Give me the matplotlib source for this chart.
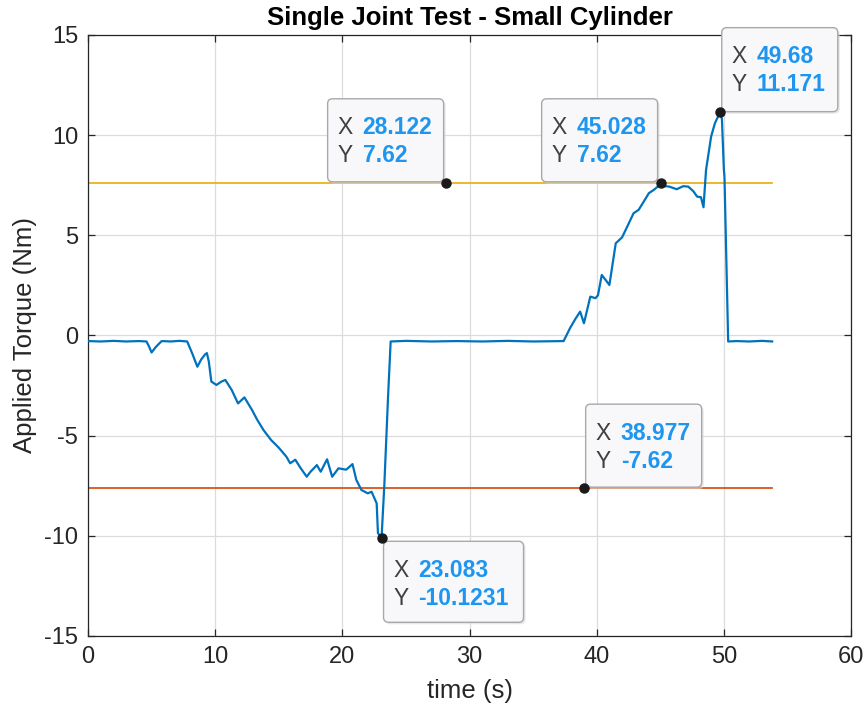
import matplotlib
import matplotlib.pyplot as plt
from matplotlib.patches import FancyBboxPatch
from matplotlib.transforms import Affine2D, ScaledTranslation

matplotlib.use("Agg")

# torque trace
time_s = [0.0, 1.0, 2.0, 3.0, 4.0, 4.6, 4.8, 5.0, 5.3, 5.6, 5.8, 6.5, 7.2, 7.8,
          8.2, 8.6, 8.9, 9.2, 9.35, 9.5, 9.7, 10.1, 10.5, 10.8, 11.3, 11.8,
          12.3, 12.9, 13.3, 13.8, 14.4, 15.0, 15.6, 15.9, 16.3, 16.7, 17.2,
          17.5, 18.0, 18.3, 18.8, 19.2, 19.7, 20.3, 20.8, 21.1, 21.5, 22.0,
          22.3, 22.7, 22.8, 23.083, 23.3, 23.6, 23.8, 25.0, 27.0, 29.0, 31.0,
          33.0, 35.0, 37.4, 37.9, 38.3, 38.7, 39.0, 39.5, 39.9, 40.1, 40.4,
          40.8, 41.0, 41.5, 42.0, 42.4, 42.9, 43.3, 43.7, 44.1, 44.5, 44.8,
          45.028, 45.4, 45.7, 46.3, 46.8, 47.2, 47.6, 47.9, 48.2, 48.4, 48.6,
          49.0, 49.3, 49.6, 49.68, 49.85, 50.0, 50.05, 50.34, 51.0, 52.0,
          53.0, 53.8]
torque_nm = [-0.28, -0.3, -0.27, -0.3, -0.28, -0.3, -0.55, -0.85, -0.6, -0.4,
             -0.28, -0.3, -0.27, -0.3, -0.9, -1.56, -1.2, -0.95, -0.88, -1.3,
             -2.3, -2.47, -2.3, -2.22, -2.72, -3.39, -3.09, -3.72, -4.2, -4.72,
             -5.22, -5.6, -6.05, -6.38, -6.2, -6.6, -7.05, -6.8, -6.47, -6.8,
             -6.18, -7.05, -6.63, -6.7, -6.42, -7.21, -7.71, -7.88, -7.8, -8.38,
             -9.86, -10.1231, -7.5, -3.0, -0.3, -0.27, -0.3, -0.28, -0.3, -0.27,
             -0.3, -0.28, 0.36, 0.8, 1.19, 0.61, 1.94, 1.86, 2.0, 3.02, 2.69,
             2.52, 4.6, 4.9, 5.43, 6.1, 6.27, 6.68, 7.1, 7.27, 7.43, 7.62,
             7.45, 7.43, 7.3, 7.45, 7.43, 7.2, 6.93, 6.9, 6.4, 8.26, 9.93,
             10.6, 11.0, 11.171, 10.8, 8.3, 7.9, -0.3, -0.28, -0.3, -0.27, -0.3]

upper_limit = 7.62
lower_limit = -7.62
limit_span = [0.0, 53.8]

# data tips
tip_x = [28.122, 45.028, 49.68, 38.977, 23.083]
tip_y = [7.62, 7.62, 11.171, -7.62, -10.1231]
tip_xlabel = ["28.122", "45.028", "49.68", "38.977", "23.083"]
tip_ylabel = ["7.62", "7.62", "11.171", "-7.62", "-10.1231"]

plt.rcParams["font.family"] = ["Liberation Sans", "DejaVu Sans"]
plt.rcParams["axes.unicode_minus"] = False

fig = plt.figure(figsize=(8.66, 7.13), dpi=100)
ax = fig.add_axes([0.1016, 0.108, 0.8811, 0.843])

ax.plot(limit_span, [upper_limit, upper_limit], color="#EDB120", lw=1.3, zorder=2)
ax.plot(limit_span, [lower_limit, lower_limit], color="#D95319", lw=1.3, zorder=2)
ax.plot(time_s, torque_nm, color="#0072BD", lw=1.6, zorder=3)

ax.set_xlim(0, 60)
ax.set_ylim(-15, 15)
ax.set_xticks(range(0, 61, 10))
ax.set_yticks(range(-15, 16, 5))
ax.grid(True, color="#DCDCDC", lw=0.9)
ax.set_axisbelow(True)
for s in ax.spines.values():
    s.set_color("#262626")
    s.set_linewidth(0.9)
ax.tick_params(direction="in", top=True, right=True, length=5, width=0.9,
               color="#262626", labelsize=17, labelcolor="#262626", pad=7)
ax.set_title("Single Joint Test - Small Cylinder", fontsize=18.5, fontweight="bold",
             color="black", pad=7)
ax.set_xlabel("time (s)", fontsize=18.5, color="#262626", labelpad=8)
ax.set_ylabel("Applied Torque (Nm)", fontsize=18.5, color="#262626", labelpad=5)

# box placement in pixels relative to the tip point: (left, bottom, width, height)
boxes = [(-118, 1, 116, 83), (-119, 1, 116, 83), (2, 0, 116, 84),
         (2, 1, 116, 83), (2, -84, 140, 81)]

for x, y, xl, yl, (bx, by, bw, bh) in zip(tip_x, tip_y, tip_xlabel, tip_ylabel, boxes):
    tr = Affine2D() + ScaledTranslation(x, y, ax.transData)
    shadow = FancyBboxPatch((bx + 2, by - 2), bw, bh, boxstyle="round,pad=0,rounding_size=5",
                            transform=tr, facecolor="#D8D8D8", edgecolor="none",
                            alpha=0.6, zorder=4, clip_on=False)
    ax.add_patch(shadow)
    box = FancyBboxPatch((bx, by), bw, bh, boxstyle="round,pad=0,rounding_size=5",
                         transform=tr, facecolor="#F8F8FB", edgecolor="#A8A8A8",
                         lw=1.0, zorder=5, clip_on=False)
    ax.add_patch(box)
    top = by + bh
    for row, (letter, val) in enumerate([("X", xl), ("Y", yl)]):
        cy = top - 29 - 28 * row
        ax.text(bx + 10, cy, letter, transform=tr, fontsize=16.5, color="#404040",
                va="center", ha="left", zorder=6, clip_on=False)
        ax.text(bx + 35, cy, val, transform=tr, fontsize=16.5, color="#1E96F0",
                fontweight="bold", va="center", ha="left", zorder=6, clip_on=False)
    ax.plot([x], [y], "o", color="#1A1A1A", ms=6.5, zorder=7, clip_on=False)

fig.savefig("out.png", dpi=100)
plt.close(fig)
